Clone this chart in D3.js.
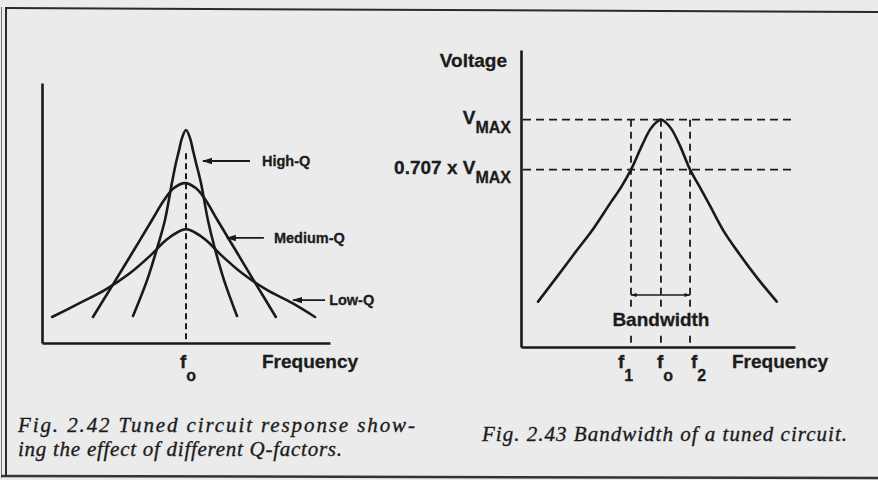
<!DOCTYPE html>
<html>
<head>
<meta charset="utf-8">
<script src="https://cdn.jsdelivr.net/npm/d3@7"></script>
<style>
  html, body { margin: 0; padding: 0; background: #ebebeb; }
  svg { display: block; }
  .lbl { font-family: "Liberation Sans", Arial, sans-serif; font-weight: bold; fill: #1c1c1c;
         stroke: #1c1c1c; stroke-width: 0.3; }
  .cap { font-family: "Liberation Serif", "Times New Roman", serif; font-style: italic;
         fill: #1c1c1c; stroke: #1c1c1c; stroke-width: 0.35; }
</style>
</head>
<body>
<svg id="c" width="878" height="480"></svg>
<script>
// ---------- Fig. 2.42: response of tuned circuits with different Q ----------
// frequency (arbitrary units, resonance at 50) and relative response (0-100)
const resonanceF = 50;
const qLabels = ["High-Q", "Medium-Q", "Low-Q"];
const highQ = [
  [31.6, 10.4], [36.5, 24.2], [40.3, 37.7], [42.7, 47.3], [45.1, 61.5],
  [46.5, 69.2], [47.6, 74.2], [48.6, 78.8], [50.0, 81.9], [51.4, 78.8],
  [52.4, 74.2], [53.5, 69.2], [55.2, 61.5], [57.6, 47.3], [59.7, 37.7],
  [63.2, 24.2], [67.7, 10.4]
];
const mediumQ = [
  [17.7, 10.0], [24.3, 21.9], [31.3, 34.6], [38.2, 47.3], [42.4, 55.0],
  [45.8, 59.6], [49.6, 61.5], [53.4, 59.6], [56.8, 55.0], [60.9, 47.3],
  [67.8, 34.6], [74.7, 21.9], [81.2, 10.0]
];
const lowQ = [
  [3.5, 10.0], [13.2, 15.4], [21.9, 20.4], [30.6, 26.9], [37.5, 33.5],
  [43.1, 39.6], [47.2, 42.7], [50.0, 43.8], [52.8, 42.7], [56.9, 39.6],
  [62.5, 33.5], [69.4, 26.9], [78.1, 20.4], [86.8, 15.4], [94.8, 10.0]
];
// points on each curve that the name arrows point at
const qPointers = [[55.9, 70.0], [64.2, 40.4], [87.2, 16.5]];
const resonanceMarkerTop = 73;

// ---------- Fig. 2.43: bandwidth of a tuned circuit ----------
const vMax = 1;
const halfPower = 0.707;
const f1 = 39.3, f0 = 50.0, f2 = 60.4;
const bandLabels = [["f", "1"], ["f", "o"], ["f", "2"]];
const bandCurve = [
  [6.1, 0.2835], [12.9, 0.3371], [19.6, 0.4008], [26.1, 0.4732], [31.8, 0.5589],
  [36.1, 0.6331], [39.3, 0.707], [43.2, 0.8351], [46.1, 0.9331], [48.2, 0.9794],
  [50.0, 1.0], [51.8, 0.9794], [53.9, 0.9331], [56.8, 0.8351], [60.4, 0.707],
  [63.6, 0.6331], [67.5, 0.5510], [72.1, 0.4667], [78.2, 0.3925], [84.6, 0.3324],
  [91.4, 0.2835]
];

const svg = d3.select("#c");
const ink = "#1a1a1a";
const paper = "#ebebeb";

// page frame
svg.append("line").attr("x1", 5).attr("y1", 8).attr("x2", 878).attr("y2", 12)
  .attr("stroke", "#2a2a2a").attr("stroke-width", 2);
svg.append("line").attr("x1", 1.5).attr("y1", 7).attr("x2", 1.5).attr("y2", 478)
  .attr("stroke", "#777").attr("stroke-width", 1);
svg.append("line").attr("x1", 6).attr("y1", 8).attr("x2", 6).attr("y2", 477)
  .attr("stroke", "#2a2a2a").attr("stroke-width", 2);
svg.append("line").attr("x1", 1).attr("y1", 476).attr("x2", 878).attr("y2", 478)
  .attr("stroke", "#333").attr("stroke-width", 2.5);

// arrow heads
const defs = svg.append("defs");
defs.append("marker").attr("id", "head").attr("viewBox", "0 -4 10 8")
  .attr("refX", 9).attr("refY", 0).attr("markerWidth", 10).attr("markerHeight", 8)
  .attr("markerUnits", "userSpaceOnUse").attr("orient", "auto-start-reverse")
  .append("path").attr("d", "M0,-3.2L10,0L0,3.2Z").attr("fill", ink);
defs.append("marker").attr("id", "small").attr("viewBox", "0 -4 8 8")
  .attr("refX", 7.5).attr("refY", 0).attr("markerWidth", 7).attr("markerHeight", 6)
  .attr("markerUnits", "userSpaceOnUse").attr("orient", "auto-start-reverse")
  .append("path").attr("d", "M0,-2.8L8,0L0,2.8Z").attr("fill", ink);

function bareAxis(g, axis) {
  g.call(axis);
  g.select(".domain").attr("stroke", ink).attr("stroke-width", 2.6);
}

// ===== left figure =====
const xL = d3.scaleLinear().domain([0, 100]).range([42, 330]);
const yL = d3.scaleLinear().domain([0, 100]).range([343, 83]);
const left = svg.append("g");

bareAxis(left.append("g").attr("transform", `translate(0,${yL(0)})`),
  d3.axisBottom(xL).tickValues([]).tickSizeOuter(0));
bareAxis(left.append("g").attr("transform", `translate(${xL(0)},0)`),
  d3.axisLeft(yL).tickValues([]).tickSizeOuter(0));

left.append("line")
  .attr("x1", xL(resonanceF)).attr("x2", xL(resonanceF))
  .attr("y1", yL(resonanceMarkerTop)).attr("y2", yL(0))
  .attr("stroke", ink).attr("stroke-width", 2).attr("stroke-dasharray", "6,4");

const lineL = d3.line().x(d => xL(d[0])).y(d => yL(d[1])).curve(d3.curveCatmullRom.alpha(0.5));
left.selectAll("path.q").data([highQ, mediumQ, lowQ]).join("path")
  .attr("class", "q").attr("d", lineL)
  .attr("fill", "none").attr("stroke", ink).attr("stroke-width", 2.6)
  .attr("stroke-linejoin", "round").attr("stroke-linecap", "round");

const arrowLen = [47, 37, 32];
const labelGap = [12, 10, 4];
qLabels.forEach((name, i) => {
  const [f, v] = qPointers[i];
  const tx = xL(f), ty = yL(v);
  left.append("line")
    .attr("x1", tx + arrowLen[i]).attr("y1", ty).attr("x2", tx).attr("y2", ty)
    .attr("stroke", ink).attr("stroke-width", 1.8).attr("marker-end", "url(#head)");
  left.append("text").attr("class", "lbl")
    .attr("x", tx + arrowLen[i] + labelGap[i]).attr("y", ty + 5)
    .attr("font-size", 14.5).text(name);
});

left.append("text").attr("class", "lbl").attr("x", 262).attr("y", 368)
  .attr("font-size", 19).text("Frequency");
const foL = left.append("text").attr("class", "lbl")
  .attr("x", xL(resonanceF) - 6).attr("y", 368).attr("font-size", 19);
foL.append("tspan").text("f");
foL.append("tspan").attr("font-size", 16).attr("dy", 13).text("o");

// ===== right figure =====
const xR = d3.scaleLinear().domain([0, 97.9]).range([521, 795]);
const yR = d3.scaleLog().domain([0.207, 1.62]).range([347, 50]);
const right = svg.append("g");

bareAxis(right.append("g").attr("transform", `translate(0,${yR(0.207)})`),
  d3.axisBottom(xR).tickValues([]).tickSizeOuter(0));
bareAxis(right.append("g").attr("transform", `translate(${xR(0)},0)`),
  d3.axisLeft(yR).tickValues([]).tickSizeOuter(0));

// reference levels
[vMax, halfPower].forEach(v => {
  right.append("line")
    .attr("x1", xR(0) + 2).attr("x2", xR(97.9)).attr("y1", yR(v)).attr("y2", yR(v))
    .attr("stroke", ink).attr("stroke-width", 1.8).attr("stroke-dasharray", "8,5");
});
[f1, f0, f2].forEach(f => {
  right.append("line")
    .attr("x1", xR(f)).attr("x2", xR(f)).attr("y1", yR(vMax)).attr("y2", yR(0.207))
    .attr("stroke", ink).attr("stroke-width", 1.8).attr("stroke-dasharray", "7,5");
});

const lineR = d3.line().x(d => xR(d[0])).y(d => yR(d[1])).curve(d3.curveMonotoneX);
right.append("path").datum(bandCurve).attr("d", lineR)
  .attr("fill", "none").attr("stroke", ink).attr("stroke-width", 2.6)
  .attr("stroke-linejoin", "round").attr("stroke-linecap", "round");

// bandwidth span
right.append("line")
  .attr("x1", xR(f1)).attr("x2", xR(f2)).attr("y1", 295).attr("y2", 295)
  .attr("stroke", ink).attr("stroke-width", 1.4)
  .attr("marker-start", "url(#small)").attr("marker-end", "url(#small)");
const bwText = right.append("text").attr("class", "lbl").attr("x", xR(f0)).attr("y", 326)
  .attr("text-anchor", "middle").attr("font-size", 19).text("Bandwidth");
const bb = bwText.node().getBBox();
right.insert("rect", "text")
  .attr("x", bb.x - 2).attr("y", bb.y + 1).attr("width", bb.width + 4).attr("height", bb.height)
  .attr("fill", paper);

right.append("text").attr("class", "lbl").attr("x", 507).attr("y", 67)
  .attr("text-anchor", "end").attr("font-size", 19).text("Voltage");

function levelLabel(prefix, v) {
  const t = right.append("text").attr("class", "lbl").attr("x", 511)
    .attr("y", yR(v) + 4).attr("text-anchor", "end").attr("font-size", 19);
  t.append("tspan").text(prefix + "V");
  t.append("tspan").attr("font-size", 16).attr("dy", 9).text("MAX");
}
levelLabel("", vMax);
levelLabel("0.707 x ", halfPower);

const bandOffsets = [-13, -4, 1];
[f1, f0, f2].forEach((f, i) => {
  const t = right.append("text").attr("class", "lbl")
    .attr("x", xR(f) + bandOffsets[i]).attr("y", 368).attr("font-size", 19);
  t.append("tspan").text(bandLabels[i][0]);
  t.append("tspan").attr("font-size", 16).attr("dy", 13).text(bandLabels[i][1]);
});
right.append("text").attr("class", "lbl").attr("x", 732).attr("y", 368)
  .attr("font-size", 19).text("Frequency");

// ===== captions =====
function caption(x, y, str, width) {
  svg.append("text").attr("class", "cap").attr("x", x).attr("y", y)
    .attr("font-size", 21).attr("textLength", width)
    .attr("lengthAdjust", "spacing").text(str);
}
caption(18, 432, "Fig. 2.42 Tuned circuit response show-", 397);
caption(18, 455.5, "ing the effect of different Q-factors.", 324);
caption(482, 441, "Fig. 2.43 Bandwidth of a tuned circuit.", 365);
</script>
</body>
</html>
